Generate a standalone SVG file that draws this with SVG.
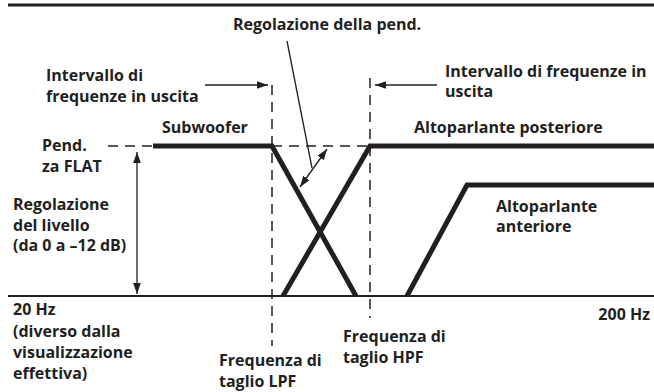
<svg xmlns="http://www.w3.org/2000/svg" width="654" height="392" viewBox="0 0 654 392">
<style>
text{font-family:"Open Sans","Liberation Sans",Arial,sans-serif;font-weight:bold;font-size:16px;fill:#231f20}
.axis{stroke:#231f20;fill:none}
.curve{stroke:#231f20;stroke-width:5;fill:none;stroke-linejoin:miter}
.dash{stroke:#231f20;stroke-width:1.5;stroke-dasharray:10 7;fill:none}
.thin{stroke:#231f20;stroke-width:1.3;fill:none}
</style>
<defs>
<marker id="ah" viewBox="0 0 10 10" refX="10" refY="5" markerWidth="11" markerHeight="11" markerUnits="userSpaceOnUse" orient="auto-start-reverse">
<path d="M0,1.5 L10,5 L0,8.5 Z" fill="#231f20"/>
</marker>
</defs>
<rect width="654" height="392" fill="#fff"/>
<g id="axes">
<line class="axis" x1="8" y1="5" x2="654" y2="5" stroke-width="3"/>
<line class="axis" x1="8" y1="296" x2="654" y2="296" stroke-width="2"/>
</g>
<g id="connectors">
<line class="dash" x1="108" y1="146" x2="153" y2="146"/>
<line class="dash" x1="272" y1="146" x2="370" y2="146"/>
<line class="dash" x1="272" y1="85" x2="272" y2="346"/>
<line class="dash" x1="370" y1="78" x2="370" y2="318"/>
<line class="thin" x1="137" y1="152" x2="137" y2="294" marker-start="url(#ah)" marker-end="url(#ah)"/>
<line class="thin" x1="205" y1="85" x2="268" y2="85" marker-end="url(#ah)"/>
<line class="thin" x1="437" y1="85" x2="375" y2="85" marker-end="url(#ah)"/>
<line class="thin" x1="287" y1="41" x2="312" y2="168"/>
<line class="thin" x1="300" y1="187" x2="327" y2="149" marker-start="url(#ah)" marker-end="url(#ah)"/>
</g>
<g id="subwoofer">
<polyline class="curve" points="153,146 272,146 356,296"/>
<text x="162" y="133">Subwoofer</text>
</g>
<g id="rear">
<polyline class="curve" points="283,296 370,146 654,146"/>
<text x="414" y="133">Altoparlante posteriore</text>
</g>
<g id="front">
<polyline class="curve" points="407,296 467,185 654,185"/>
<text x="496" y="212">Altoparlante</text>
<text x="496" y="232">anteriore</text>
</g>
<g id="slope-label">
<text x="233" y="30">Regolazione della pend.</text>
</g>
<g id="range-left">
<text x="46" y="81">Intervallo di</text>
<text x="46" y="102">frequenze in uscita</text>
</g>
<g id="range-right">
<text x="445" y="77">Intervallo di frequenze in</text>
<text x="445" y="97">uscita</text>
</g>
<g id="flat-label">
<text x="42" y="151">Pend.</text>
<text x="42" y="172">za FLAT</text>
</g>
<g id="level-label">
<text x="13" y="210">Regolazione</text>
<text x="13" y="231">del livello</text>
<text x="13" y="251">(da 0 a –12 dB)</text>
</g>
<g id="low-label">
<text x="13" y="315">20 Hz</text>
<text x="13" y="337">(diverso dalla</text>
<text x="13" y="358">visualizzazione</text>
<text x="13" y="379">effettiva)</text>
</g>
<g id="high-label">
<text x="650" y="320" text-anchor="end">200 Hz</text>
</g>
<g id="lpf-label">
<text x="219" y="366">Frequenza di</text>
<text x="219" y="387">taglio LPF</text>
</g>
<g id="hpf-label">
<text x="343" y="342">Frequenza di</text>
<text x="343" y="363">taglio HPF</text>
</g>
</svg>
